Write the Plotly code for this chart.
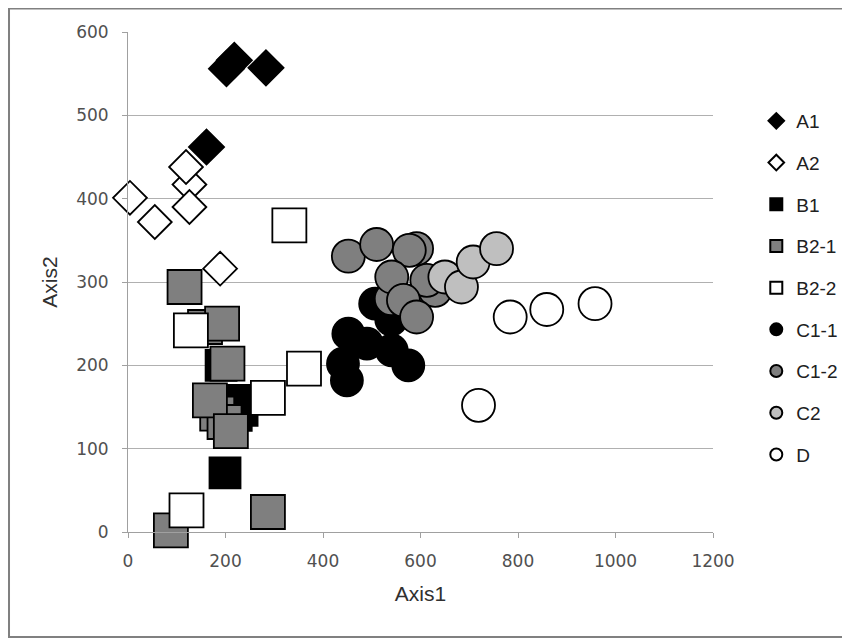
import plotly.graph_objects as go

# ---- data ----
a1_x = [202, 218, 283, 161]
a1_y = [556, 566, 557, 462]

a2_x = [4, 55, 126, 119, 126, 189]
a2_y = [401, 372, 417, 438, 390, 316]

b1_x = [199, 191, 226, 234, 222]
b1_y = [71, 200, 158, 146, 140]

b21_x = [116, 158, 193, 204, 183, 198, 168, 211, 287, 88]
b21_y = [294, 246, 250, 202, 142, 132, 158, 121, 24, 2]

b22_x = [331, 129, 361, 287, 120]
b22_y = [368, 242, 196, 161, 26]

c11_x = [551, 540, 507, 452, 490, 541, 441, 449, 575]
c11_y = [262, 255, 274, 238, 226, 218, 202, 182, 200]

c12_x = [452, 510, 592, 577, 540, 541, 630, 613, 565, 592]
c12_y = [331, 345, 340, 338, 280, 306, 290, 302, 278, 258]

c2_x = [650, 684, 708, 756]
c2_y = [306, 294, 324, 340]

d_x = [784, 859, 719, 958]
d_y = [258, 267, 152, 274]

series = [
    ("A1", a1_x, a1_y, "diamond", "#000000", 27),
    ("A2", a2_x, a2_y, "diamond", "#ffffff", 26),
    ("B1", b1_x, b1_y, "square", "#000000", 31),
    ("B2-1", b21_x, b21_y, "square", "#7f7f7f", 34),
    ("B2-2", b22_x, b22_y, "square", "#ffffff", 34),
    ("C1-1", c11_x, c11_y, "circle", "#000000", 32),
    ("C1-2", c12_x, c12_y, "circle", "#7f7f7f", 33),
    ("C2", c2_x, c2_y, "circle", "#bfbfbf", 33),
    ("D", d_x, d_y, "circle", "#ffffff", 33),
]

x_ticks = [0, 200, 400, 600, 800, 1000, 1200]
y_ticks = [0, 100, 200, 300, 400, 500, 600]

fig = go.Figure()
for name, xs, ys, sym, col, sz in series:
    fig.add_trace(go.Scatter(
        x=xs, y=ys, mode="markers", name=name, legendgroup=name,
        cliponaxis=False,
        marker=dict(symbol=sym, color=col, size=sz,
                    line=dict(color="#000000", width=1.8)),
    ))

tickfont = dict(family="DejaVu Sans, Liberation Sans, Arial", size=17, color="#505050")
titlefont = dict(family="Liberation Sans, Arial", size=21, color="#303030")

fig.update_layout(
    width=850, height=640,
    margin=dict(l=120, r=145, t=24, b=116, autoexpand=False),
    paper_bgcolor="#ffffff", plot_bgcolor="#ffffff",
    showlegend=True,
    legend=dict(x=1.074, y=0.86, xanchor="left", yanchor="top",
                font=dict(family="Liberation Sans, Arial", size=19, color="#202020"),
                itemsizing="constant", tracegroupgap=14, itemwidth=30,
                bgcolor="rgba(0,0,0,0)"),
    xaxis=dict(range=[0, 1200], tickvals=x_ticks, ticktext=[str(v) for v in x_ticks],
               showgrid=False, zeroline=False, showline=True, linecolor="#a0a0a0",
               linewidth=1, ticks="outside", ticklen=5, tickcolor="#a0a0a0",
               tickfont=tickfont, ticklabelstandoff=9,
               title=dict(text="Axis1", font=titlefont, standoff=15)),
    yaxis=dict(range=[0, 600], tickvals=y_ticks, ticktext=[str(v) for v in y_ticks],
               showgrid=True, gridcolor="#b0b0b0", gridwidth=1,
               zeroline=False, showline=True, linecolor="#a0a0a0",
               linewidth=1, ticks="outside", ticklen=5, tickcolor="#a0a0a0",
               tickfont=tickfont, ticklabelstandoff=10,
               title=dict(text="Axis2", font=titlefont, standoff=12)),
    shapes=[dict(type="rect", xref="paper", yref="paper",
                 x0=-0.2034, x1=1.2325, y0=-0.21, y1=1.047,
                 line=dict(color="#808080", width=2), layer="below")],
)

fig.write_html("out.html")
